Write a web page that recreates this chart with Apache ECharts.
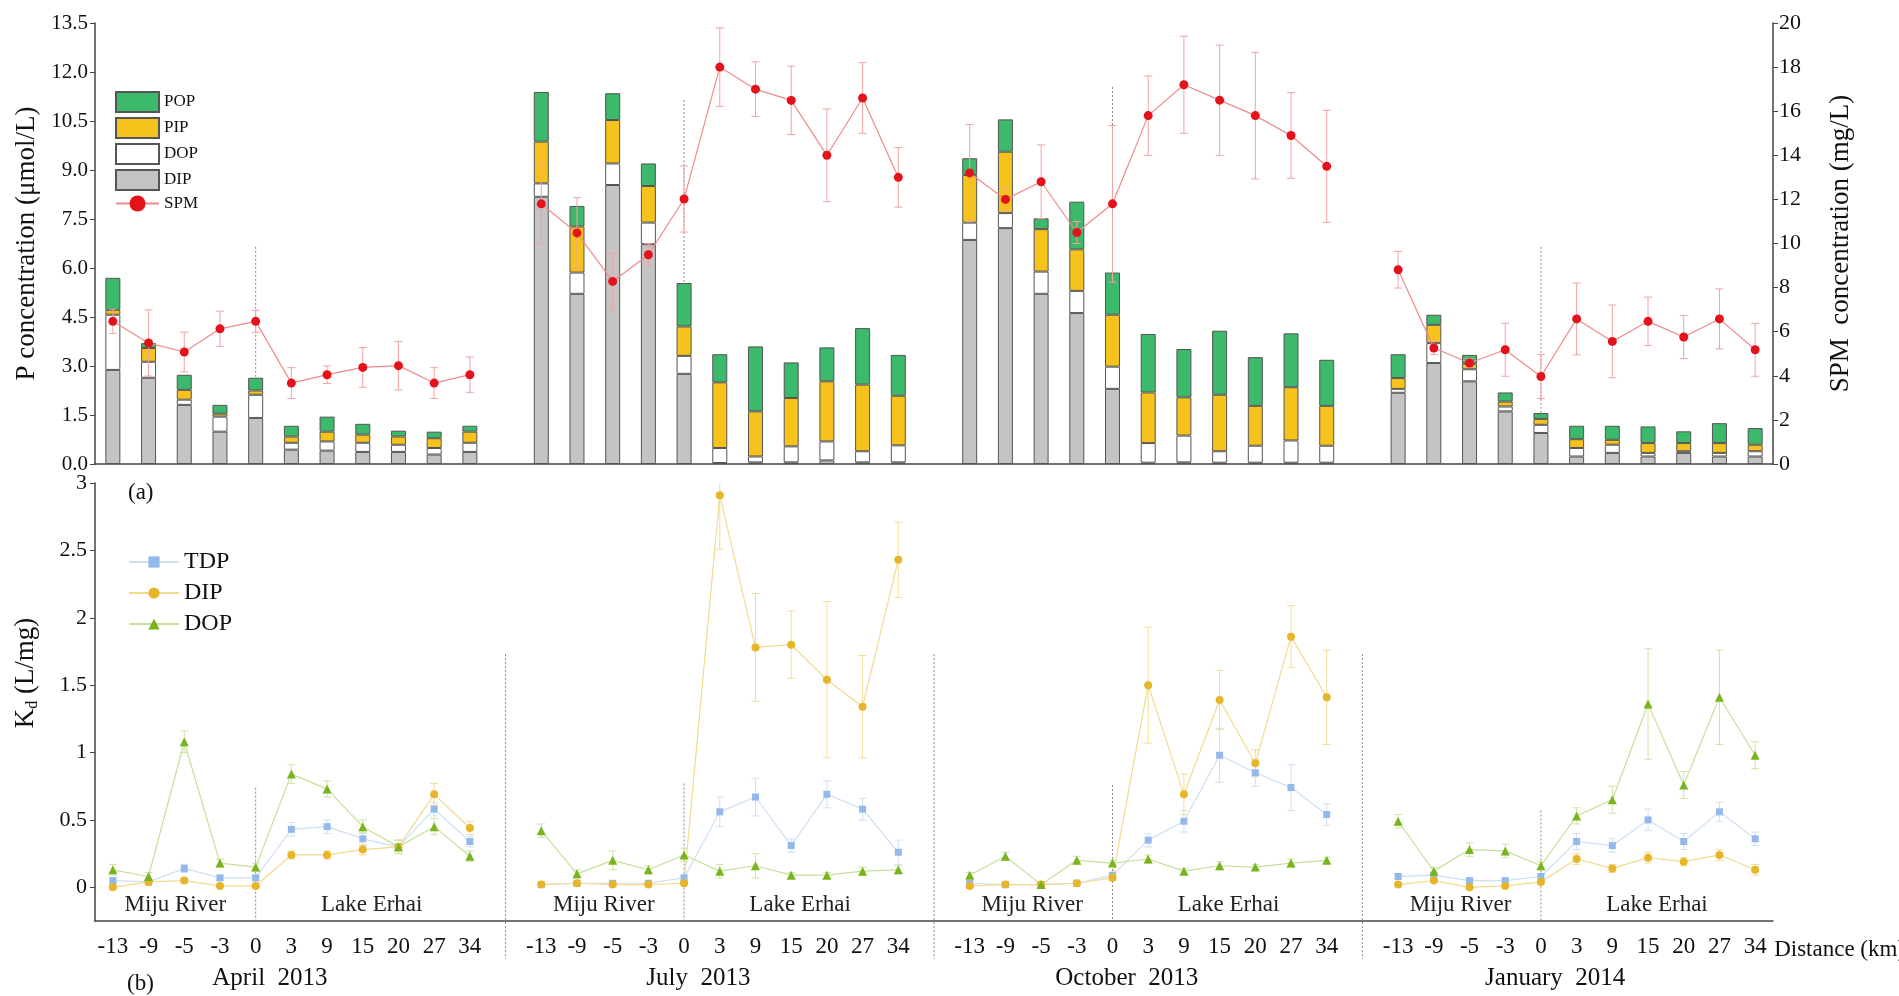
<!DOCTYPE html>
<html><head><meta charset="utf-8">
<script src="https://cdn.jsdelivr.net/npm/echarts@6/dist/echarts.min.js"></script>
<style>html,body{margin:0;padding:0;background:#fff}#c{width:1899px;height:996px}</style>
</head><body><div id="c"></div>
<script>
// ---------- data ----------
const sites = ['-13','-9','-5','-3','0','3','9','15','20','27','34'];
const seasons = ['April  2013','July  2013','October  2013','January  2014'];
// P fractions (µmol/L), order: April, July, October, January (11 sites each)
const DIP_conc = [2.88,2.64,1.81,0.99,1.41,0.44,0.41,0.37,0.37,0.29,0.37,
  8.18,5.21,8.54,6.73,2.76,0.03,0.05,0.05,0.11,0.05,0.05,
  6.86,7.22,5.21,4.62,2.30,0.04,0.05,0.04,0.04,0.04,0.04,
  2.18,3.09,2.53,1.61,0.95,0.23,0.34,0.23,0.34,0.23,0.23];
const DOP_conc = [1.69,0.49,0.16,0.46,0.71,0.21,0.28,0.28,0.22,0.20,0.28,
  0.41,0.65,0.66,0.66,0.55,0.46,0.18,0.49,0.58,0.34,0.52,
  0.53,0.46,0.68,0.68,0.68,0.60,0.82,0.35,0.52,0.68,0.52,
  0.12,0.61,0.37,0.15,0.25,0.26,0.25,0.11,0.05,0.11,0.16];
const PIP_conc = [0.15,0.42,0.30,0.09,0.13,0.19,0.30,0.25,0.25,0.30,0.34,
  1.28,1.41,1.33,1.12,0.90,2.01,1.38,1.48,1.84,2.04,1.52,
  1.46,1.88,1.30,1.27,1.59,1.55,1.17,1.73,1.22,1.63,1.22,
  0.33,0.56,0.17,0.15,0.18,0.27,0.15,0.30,0.25,0.30,0.20];
const POP_conc = [0.98,0.15,0.46,0.27,0.39,0.33,0.46,0.33,0.18,0.20,0.18,
  1.52,0.63,0.82,0.69,1.33,0.86,1.99,1.09,1.04,1.73,1.25,
  0.51,0.99,0.33,1.46,1.29,1.79,1.48,1.96,1.49,1.65,1.41,
  0.73,0.31,0.27,0.28,0.18,0.41,0.43,0.51,0.36,0.61,0.51];
// SPM (mg/L) and its error
const SPM = [6.47,5.49,5.08,6.13,6.47,3.67,4.05,4.38,4.46,3.67,4.05,
  11.8,10.48,8.28,9.49,12.02,18.0,17.0,16.49,14.0,16.6,13.0,
  13.2,12.0,12.8,10.5,11.8,15.8,17.2,16.5,15.8,14.9,13.5,
  8.81,5.26,4.58,5.18,3.97,6.58,5.56,6.47,5.76,6.58,5.18];
const SPM_err = [0.55,1.5,0.9,0.8,0.5,0.7,0.4,0.9,1.1,0.7,0.8,
  1.8,1.6,1.3,0.5,1.5,1.78,1.24,1.55,2.1,1.6,1.35,
  2.2,0.5,1.67,0.5,3.55,1.8,2.2,2.5,2.87,1.94,2.54,
  0.83,0.3,0.2,1.2,1.0,1.63,1.65,1.1,0.98,1.36,1.2];
// Kd (L/mg)
const Kd_TDP = [.05,.04,.14,.07,.07,.43,.45,.36,.30,.58,.34,
  .02,.03,.03,.03,.07,.56,.67,.31,.69,.58,.26,
  .03,.02,.02,.03,.09,.35,.49,.98,.85,.74,.54,
  .08,.09,.05,.05,.08,.34,.31,.50,.34,.56,.36];
const Kd_DIP = [.00,.04,.05,.01,.01,.24,.24,.28,.30,.69,.44,
  .02,.03,.02,.02,.03,2.91,1.78,1.80,1.54,1.34,2.43,
  .01,.02,.02,.03,.07,1.50,.69,1.39,.92,1.86,1.41,
  .02,.05,.00,.01,.04,.21,.14,.22,.19,.24,.13];
const Kd_DOP = [.13,.08,1.08,.18,.15,.84,.73,.45,.30,.45,.23,
  .42,.10,.20,.13,.24,.12,.16,.09,.09,.12,.13,
  .09,.23,.02,.20,.18,.21,.12,.16,.15,.18,.20,
  .49,.12,.28,.27,.16,.53,.65,1.36,.76,1.41,.98];
const Kd_TDP_err = [.02,.02,.03,.02,.02,.05,.05,.05,.05,.05,.04,
  .01,.01,.01,.01,.02,.11,.14,.05,.10,.08,.09,
  .01,.01,.01,.01,.02,.05,.08,.20,.10,.17,.08,
  .02,.02,.01,.01,.02,.06,.05,.08,.06,.07,.05];
const Kd_DIP_err = [.01,.01,.02,.01,.01,.03,.03,.04,.05,.08,.05,
  .01,.01,.01,.01,.01,.40,.40,.25,.58,.38,.28,
  .01,.01,.01,.01,.02,.43,.15,.22,.10,.23,.35,
  .01,.01,.01,.01,.01,.04,.03,.04,.03,.04,.04];
const Kd_DOP_err = [.04,.03,.08,.03,.03,.07,.06,.05,.05,.06,.04,
  .05,.03,.07,.03,.05,.05,.09,.02,.02,.03,.03,
  .02,.03,.02,.03,.02,.03,.02,.03,.02,.03,.02,
  .05,.03,.05,.05,.03,.06,.10,.41,.10,.35,.10];
const topTicks = [0,1.5,3,4.5,6,7.5,9,10.5,12,13.5];
const kdTicks = [0,0.5,1,1.5,2,2.5,3];
// dotted divider extents
const zeroLineTopA = [6.65,11.14,11.54,6.65];   // panel (a), at 0 km
const zeroLineTopB = [0.74,0.77,0.76,0.57];     // panel (b), at 0 km
const seasonSepTop = 1.73;                      // panel (b), between seasons

// ---------- build ----------
const NS = sites.length;
const cats = [];
for (let s = 0; s < 4; s++) {
  for (let i = 0; i < NS; i++) cats.push(s + '|' + sites[i]);
  if (s < 3) cats.push('gap' + s);
}
const idxOf = (s, i) => s * (NS + 1) + i;
function expand(arr) {
  const out = [];
  for (let s = 0; s < 4; s++) {
    for (let i = 0; i < NS; i++) out.push(arr[s * NS + i]);
    if (s < 3) out.push(null);
  }
  return out;
}
function errData(vals, errs) {
  const out = [];
  for (let s = 0; s < 4; s++) for (let i = 0; i < NS; i++)
    out.push([idxOf(s, i), vals[s * NS + i], errs[s * NS + i]]);
  return out;
}
function errRender(color) {
  return function (params, api) {
    const x = api.value(0), v = api.value(1), e = api.value(2);
    const t = api.coord([x, v + e]), b = api.coord([x, v - e]);
    const w = 4, st = { stroke: color, lineWidth: 1 };
    return { type: 'group', children: [
      { type: 'line', shape: { x1: t[0], y1: t[1], x2: b[0], y2: b[1] }, style: st },
      { type: 'line', shape: { x1: t[0] - w, y1: t[1], x2: t[0] + w, y2: t[1] }, style: st },
      { type: 'line', shape: { x1: b[0] - w, y1: b[1], x2: b[0] + w, y2: b[1] }, style: st }
    ]};
  };
}

const FONT = '"Liberation Serif", "DejaVu Serif", serif';
const axisCol = '#444';
const C = { DIP: '#c4c4c4', DOP: '#ffffff', PIP: '#f6c21c', POP: '#3cb96b', SPM: '#e3121b',
  tdp: '#93b9ea', dip: '#e6b52a', dop: '#79b41e' };

const barCommon = (name, data, color) => ({
  name, type: 'bar', stack: 'P', xAxisIndex: 0, yAxisIndex: 0, barWidth: 15,
  data: expand(data), itemStyle: { color, borderColor: '#555', borderWidth: 1 }, z: 2
});
const kdLine = (name, data, color, lineColor, symbol, size) => ({
  name, type: 'line', xAxisIndex: 1, yAxisIndex: 2, data: expand(data),
  symbol, symbolSize: size, itemStyle: { color }, lineStyle: { color: lineColor, width: 1.2 },
  connectNulls: false, z: 4
});
const errSeries = (data, color, xi, yi, clip) => ({
  type: 'custom', xAxisIndex: xi, yAxisIndex: yi, renderItem: errRender(color),
  data, encode: { x: 0, y: 1 }, clip: clip, z: 3, silent: true
});

const chart = echarts.init(document.getElementById('c'));
const option = {
  animation: false,
  textStyle: { fontFamily: FONT, color: '#111' },
  grid: [
    { left: 95, right: 126, top: 23, height: 441 },
    { left: 95, right: 126, top: 483, height: 438 }
  ],
  xAxis: [
    { type: 'category', gridIndex: 0, data: cats, boundaryGap: true,
      axisLine: { lineStyle: { color: axisCol, width: 1.5 } },
      axisTick: { alignWithLabel: true, interval: 0, length: 5, lineStyle: { color: axisCol } },
      axisLabel: { show: false } },
    { type: 'category', gridIndex: 1, data: cats, boundaryGap: true,
      axisLine: { onZero: false, lineStyle: { color: axisCol, width: 1.5 } },
      axisTick: { alignWithLabel: true, interval: 0, length: 5, lineStyle: { color: axisCol } },
      axisLabel: { interval: 0, fontSize: 23, fontFamily: FONT, color: '#111', margin: 14,
        formatter: v => v.startsWith('gap') ? '' : v.split('|')[1] } }
  ],
  yAxis: [
    { type: 'value', gridIndex: 0, min: 0, max: 13.5, position: 'left',
      name: 'P concentration (μmol/L)', nameLocation: 'middle', nameGap: 50, nameRotate: 90,
      nameTextStyle: { fontSize: 27, fontFamily: FONT, color: '#111' },
      axisLine: { show: true, lineStyle: { color: axisCol, width: 1.5 } },
      axisTick: { show: true, length: 5, customValues: topTicks, lineStyle: { color: axisCol } },
      axisLabel: { fontSize: 21, fontFamily: FONT, color: '#111', margin: 7, customValues: topTicks,
        formatter: v => v.toFixed(1) },
      splitLine: { show: false } },
    { type: 'value', gridIndex: 0, min: 0, max: 20, interval: 2, position: 'right',
      name: 'SPM  concentration (mg/L)', nameLocation: 'middle', nameGap: 54, nameRotate: 90,
      nameTextStyle: { fontSize: 27, fontFamily: FONT, color: '#111' },
      axisLine: { show: true, lineStyle: { color: axisCol, width: 1.5 } },
      axisTick: { show: true, length: 5, lineStyle: { color: axisCol } },
      axisLabel: { fontSize: 22, fontFamily: FONT, color: '#111', margin: 6 },
      splitLine: { show: false } },
    { type: 'value', gridIndex: 1, min: -0.25, max: 3, position: 'left',
      name: '{k|K}{d|d}{k| (L/mg)}', nameLocation: 'middle', nameGap: 54, nameRotate: 90,
      nameTextStyle: { fontSize: 27, fontFamily: FONT, color: '#111', padding: [0, 0, 0, 58],
        rich: { k: { fontSize: 27, fontFamily: FONT, color: '#111' },
                d: { fontSize: 16, fontFamily: FONT, color: '#111', verticalAlign: 'bottom', padding: [14, 0, 0, 0] } } },
      axisLine: { show: true, lineStyle: { color: axisCol, width: 1.5 } },
      axisTick: { show: true, length: 5, customValues: kdTicks, lineStyle: { color: axisCol } },
      axisLabel: { fontSize: 22, fontFamily: FONT, color: '#111', margin: 8, customValues: kdTicks },
      splitLine: { show: false } }
  ],
  legend: [
    { orient: 'vertical', left: 110, top: 86, itemWidth: 43, itemHeight: 20, itemGap: 4,
      textStyle: { fontSize: 17, fontFamily: FONT, color: '#111' },
      data: [{ name: 'POP', icon: 'rect' }, { name: 'PIP', icon: 'rect' }, { name: 'DOP', icon: 'rect' },
             { name: 'DIP', icon: 'rect' }, { name: 'SPM' }] },
    { orient: 'vertical', left: 123, top: 545, itemWidth: 50, itemHeight: 14, itemGap: 7,
      textStyle: { fontSize: 24, fontFamily: FONT, color: '#111' },
      formatter: n => n.replace('Kd ', ''),
      data: ['Kd TDP', 'Kd DIP', 'Kd DOP'] }
  ],
  series: [
    barCommon('DIP', DIP_conc, C.DIP),
    barCommon('DOP', DOP_conc, C.DOP),
    barCommon('PIP', PIP_conc, C.PIP),
    barCommon('POP', POP_conc, C.POP),
    errSeries(errData(SPM, SPM_err), '#f2a3a3', 0, 1, false),
    { name: 'SPM', type: 'line', xAxisIndex: 0, yAxisIndex: 1, data: expand(SPM),
      symbol: 'circle', symbolSize: 9, itemStyle: { color: C.SPM },
      lineStyle: { color: '#f08a8a', width: 1.2 }, z: 5 },
    errSeries(errData(Kd_TDP, Kd_TDP_err), '#cfe0f6', 1, 2, true),
    errSeries(errData(Kd_DIP, Kd_DIP_err), '#f4dd99', 1, 2, true),
    errSeries(errData(Kd_DOP, Kd_DOP_err), '#cfe4a6', 1, 2, true),
    kdLine('Kd TDP', Kd_TDP, C.tdp, '#cddff5', 'rect', 7),
    kdLine('Kd DIP', Kd_DIP, C.dip, '#f3da8e', 'circle', 8),
    kdLine('Kd DOP', Kd_DOP, C.dop, '#c6e09c', 'triangle', 9)
  ]
};
chart.setOption(option);

// ---------- annotations positioned through the chart's own scales ----------
const topSer = { seriesIndex: 0 };     // grid 0, left axis
const botSer = { seriesIndex: 9 };     // grid 1
const pxTop = (i, v) => chart.convertToPixel(topSer, [i, v]);
const pxBot = (i, v) => chart.convertToPixel(botSer, [i, v]);
const fx = f => { const a = Math.floor(f); const p0 = pxBot(a, 0)[0], p1 = pxBot(a + 1, 0)[0]; return p0 + (f - a) * (p1 - p0); };
const g = [];
const dotted = { stroke: '#8a8a8a', lineWidth: 1, lineDash: [2, 2] };
const axisYBot = pxBot(0, -0.25)[1];
for (let s = 0; s < 4; s++) {
  const z = idxOf(s, 4);
  const a0 = pxTop(z, zeroLineTopA[s]), a1 = pxTop(z, 0);
  g.push({ type: 'line', shape: { x1: a0[0], y1: a0[1], x2: a1[0], y2: a1[1] }, style: dotted, z: 1 });
  const b0 = pxBot(z, zeroLineTopB[s]), b1 = pxBot(z, -0.25);
  g.push({ type: 'line', shape: { x1: b0[0], y1: b0[1], x2: b1[0], y2: b1[1] }, style: dotted, z: 1 });
  if (s < 3) {
    const gi = idxOf(s, NS);
    const c0 = pxBot(gi, seasonSepTop);
    g.push({ type: 'line', shape: { x1: c0[0], y1: c0[1], x2: c0[0], y2: axisYBot + 38 }, style: dotted, z: 1 });
  }
  const yRiver = pxBot(0, -0.13)[1];
  g.push({ type: 'text', x: fx(idxOf(s, 0) + 1.75), y: yRiver,
    style: { text: 'Miju River', fontSize: 23, fontFamily: FONT, fill: '#222', align: 'center', verticalAlign: 'middle' } });
  g.push({ type: 'text', x: fx(idxOf(s, 0) + 7.25), y: yRiver,
    style: { text: 'Lake Erhai', fontSize: 23, fontFamily: FONT, fill: '#222', align: 'center', verticalAlign: 'middle' } });
  g.push({ type: 'text', x: fx(idxOf(s, 0) + 4.4), y: axisYBot + 57,
    style: { text: seasons[s], fontSize: 25, fontFamily: FONT, fill: '#111', align: 'center', verticalAlign: 'middle' } });
}
g.push({ type: 'text', x: 128, y: 493, style: { text: '(a)', fontSize: 23, fontFamily: FONT, fill: '#111', verticalAlign: 'middle' } });
g.push({ type: 'text', x: 127, y: 984, style: { text: '(b)', fontSize: 23, fontFamily: FONT, fill: '#111', verticalAlign: 'middle' } });
g.push({ type: 'text', x: pxBot(idxOf(3, NS - 1), 0)[0] + 19, y: axisYBot + 29,
  style: { text: 'Distance (km)', fontSize: 23, fontFamily: FONT, fill: '#111', verticalAlign: 'middle' } });
chart.setOption({ graphic: g });
</script></body></html>
